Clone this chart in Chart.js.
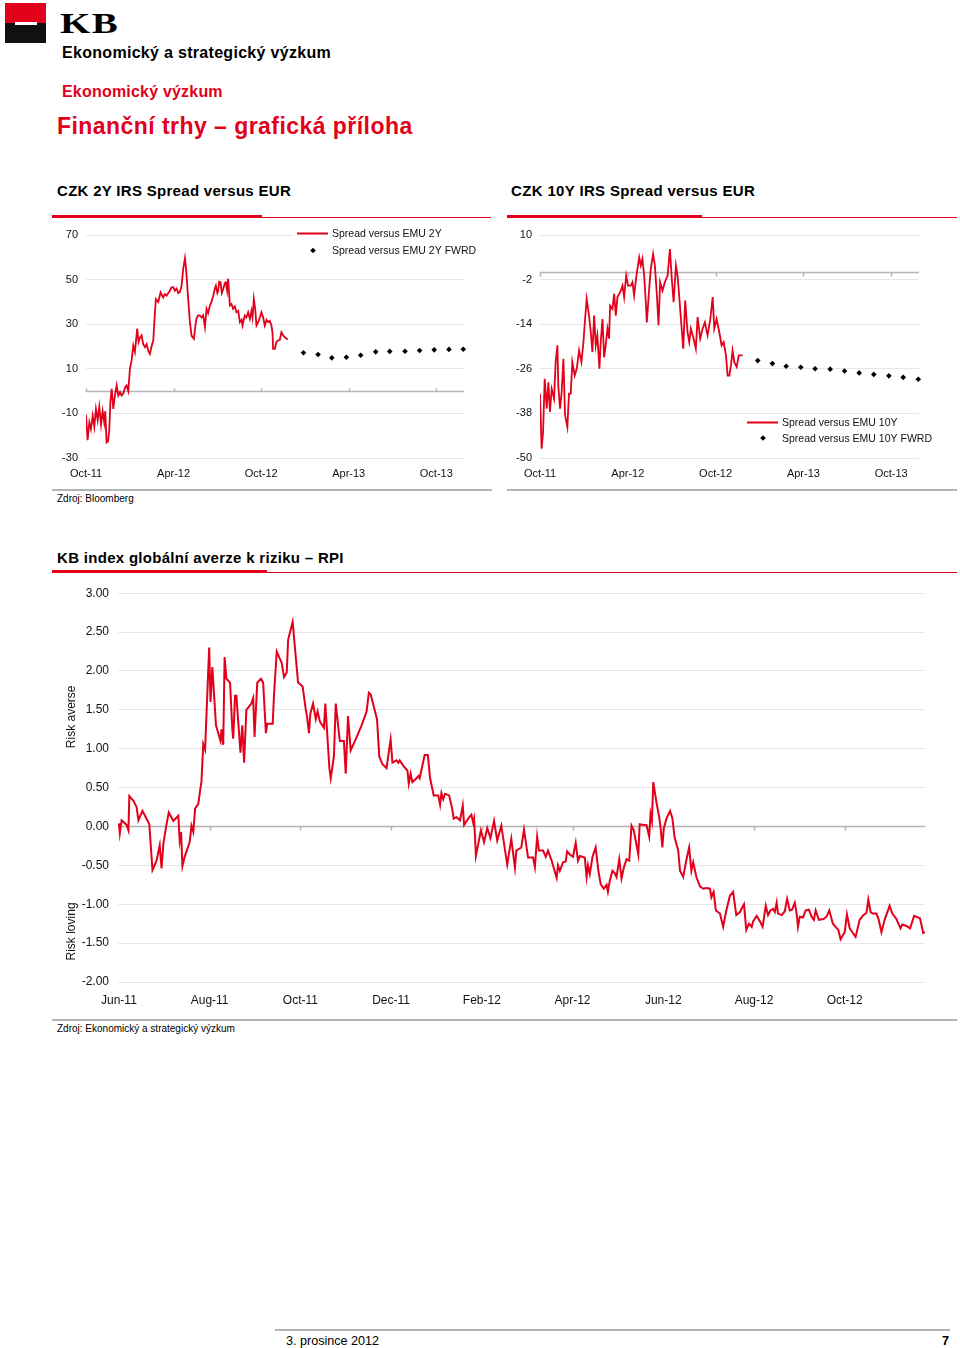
<!DOCTYPE html>
<html>
<head>
<meta charset="utf-8">
<script src="https://cdn.jsdelivr.net/npm/chart.js@4.4.0/dist/chart.umd.min.js"></script>
<style>
  body { margin: 0; width: 960px; height: 1348px; position: relative; background: #fff; overflow: hidden;
         font-family: "Liberation Sans", Arial, sans-serif; color: #000; }
  .abs { position: absolute; white-space: nowrap; line-height: 1; }
  .red { color: #e2001a; }
  .b { font-weight: bold; }
  canvas { position: absolute; }
</style>
</head>
<body>

<!-- header -->
<div class="abs" style="left:5px;top:3px;width:41px;height:20px;background:#e2001a"></div>
<div class="abs" style="left:5px;top:23px;width:41px;height:20px;background:#111"></div>
<div class="abs" style="left:15px;top:22px;width:22px;height:3px;background:#fff"></div>
<div class="abs b" style="left:60px;top:8px;font-family:'Liberation Serif',serif;font-size:30px;transform:scaleX(1.3);transform-origin:left top;letter-spacing:1px">KB</div>
<div class="abs b" style="left:62px;top:45px;font-size:16px;letter-spacing:0.3px">Ekonomický a strategický výzkum</div>
<div class="abs b red" style="left:62px;top:84px;font-size:16px;letter-spacing:0.2px">Ekonomický výzkum</div>
<div class="abs b red" style="left:57px;top:115px;font-size:23px;letter-spacing:0.45px">Finanční trhy – grafická příloha</div>

<!-- top chart titles -->
<div class="abs b" style="left:57px;top:183px;font-size:15px;letter-spacing:0.3px">CZK 2Y IRS Spread versus EUR</div>
<div class="abs b" style="left:511px;top:183px;font-size:15px;letter-spacing:0.35px">CZK 10Y IRS Spread versus EUR</div>
<div class="abs" style="left:52px;top:215px;width:210px;height:3px;background:#e2001a"></div>
<div class="abs" style="left:262px;top:217px;width:229px;height:1px;background:#e2001a"></div>
<div class="abs" style="left:507px;top:215px;width:195px;height:3px;background:#e2001a"></div>
<div class="abs" style="left:702px;top:217px;width:255px;height:1px;background:#e2001a"></div>

<canvas id="c2y" width="440" height="270" style="left:52px;top:220px"></canvas>
<canvas id="c10y" width="450" height="270" style="left:507px;top:220px"></canvas>

<div class="abs" style="left:52px;top:489px;width:440px;height:2px;background:#b4b4b4"></div>
<div class="abs" style="left:507px;top:489px;width:450px;height:2px;background:#b4b4b4"></div>
<div class="abs" style="left:57px;top:494px;font-size:10px">Zdroj: Bloomberg</div>

<!-- RPI chart -->
<div class="abs b" style="left:57px;top:550px;font-size:15px;letter-spacing:0.3px">KB index globální averze k riziku – RPI</div>
<div class="abs" style="left:52px;top:570px;width:215px;height:3px;background:#e2001a"></div>
<div class="abs" style="left:267px;top:572px;width:690px;height:1px;background:#e2001a"></div>

<canvas id="crpi" width="905" height="440" style="left:52px;top:577px"></canvas>

<div class="abs" style="left:52px;top:1019px;width:905px;height:2px;background:#b4b4b4"></div>
<div class="abs" style="left:57px;top:1024px;font-size:10px">Zdroj: Ekonomický a strategický výzkum</div>

<!-- footer -->
<div class="abs" style="left:275px;top:1329px;width:675px;height:2px;background:#b4b4b4"></div>
<div class="abs" style="left:286px;top:1335px;font-size:12.6px">3. prosince 2012</div>
<div class="abs b" style="left:942px;top:1335px;font-size:12.6px">7</div>

<script>
// ---- data: x positions are months counted from the first tick label ----

// CZK 2Y IRS spread (months since Oct-11)
const spread2yMonths = [0,0.11,0.23,0.34,0.46,0.57,0.68,0.80,0.91,1.03,1.14,1.25,1.32,1.41,1.51,1.60,1.67,1.76,1.87,1.98,
  2.10,2.21,2.33,2.44,2.56,2.67,2.78,2.90,3.01,3.13,3.24,3.35,3.51,3.60,3.70,3.81,3.92,4.04,4.15,4.27,
  4.38,4.49,4.61,4.72,4.79,4.95,5.11,5.29,5.41,5.52,5.64,5.75,5.86,5.98,6.09,6.21,6.32,6.43,6.55,6.66,
  6.78,6.84,6.89,7.00,7.12,7.23,7.39,7.51,7.57,7.69,7.80,7.92,8.03,8.15,8.26,8.37,8.49,8.60,8.72,8.83,
  8.90,9.00,9.06,9.13,9.22,9.31,9.40,9.51,9.58,9.67,9.74,9.86,9.97,10.08,10.20,10.31,10.43,10.54,10.66,10.72,
  10.88,10.99,11.11,11.23,11.34,11.41,11.50,11.59,11.68,11.80,11.91,12.02,12.14,12.25,12.37,12.48,12.59,12.71,12.78,12.82,
  12.94,13.05,13.16,13.28,13.39,13.51,13.62,13.73,13.85];
const spread2yValues = [-10.6,-22,-14,-17,-11,-16,-8,-13,-7,-15,-9,-14,-9,-23,-22.5,-17,-5,1,-8,-2,
  2.5,-2,-0.4,-2,-1,1.5,2.5,0,10,14,20.4,17.5,28,22,24,25,21,19.7,21,18,
  16.7,20,22.7,35,41.3,40,44.3,42,43.5,42.8,44,45,46.5,46.6,45,46,44,44.3,47.3,54.8,
  59.6,56,51.8,41.3,30.9,24.9,23.4,30,32.4,34,33.9,33,34,28.7,36.9,35,38.4,40,42.8,46,
  47.3,44,45,49,48.8,44,45.8,48.5,48.8,45,50.3,38.4,39,36.9,38,35.4,36,30.9,32,29.4,
  33.9,33,35.4,32.4,36,33,41.3,37,29.4,31,33,35.4,33,29.4,32,30.9,31.5,29.4,26,19,
  19,22,22.7,23,26.4,25,24.2,23.5,23.4];
const fwrd2yMonths = [14.90,15.90,16.84,17.84,18.82,19.85,20.81,21.86,22.86,23.86,24.87,25.85];
const fwrd2yValues = [17.2,16.4,14.9,15.2,16.1,17.6,17.8,17.9,18.2,18.5,18.7,18.8];

// CZK 10Y IRS spread (months since Oct-11)
const spread10yMonths = [0,0.11,0.21,0.32,0.46,0.57,0.68,0.80,0.96,1.07,1.19,1.25,1.37,1.48,1.60,1.71,1.87,1.98,2.10,2.21,
  2.37,2.51,2.67,2.83,2.97,3.08,3.19,3.35,3.47,3.58,3.70,3.81,3.92,4.06,4.15,4.27,4.38,4.49,4.61,4.72,
  4.79,4.95,5.07,5.18,5.29,5.48,5.64,5.75,5.89,6.02,6.21,6.32,6.43,6.59,6.78,6.89,7.00,7.12,7.23,7.30,
  7.46,7.57,7.73,7.85,7.99,8.10,8.21,8.37,8.53,8.72,8.88,8.99,9.13,9.29,9.40,9.51,9.63,9.79,9.92,10.08,
  10.20,10.31,10.50,10.65,10.77,10.95,11.11,11.27,11.45,11.64,11.80,11.91,12.07,12.25,12.41,12.55,12.71,12.82,12.94,13.05,
  13.16,13.28,13.44,13.58,13.73,13.85];
const spread10yValues = [-32.7,-47.5,-43,-28.7,-36.7,-29.6,-37.6,-31.4,-34,-24.2,-19.7,-30.5,-36.7,-32.3,-23.3,-38.5,-41.7,-32.7,-32.7,-24.2,
  -27.8,-26,-21.1,-24.2,-18.8,-12.6,-7.2,-11.7,-16.1,-21.5,-11.7,-19.7,-17,-26,-18.8,-12.6,-22.9,-19.7,-15.2,-17.9,
  -9,-9.9,-5.8,-11.7,-6.7,-5.4,-3.6,-6.7,-0.9,-3.6,-3.6,-2.7,-6.3,-0.9,4,1.8,3.6,-0.9,-8.1,-13.5,
  -4.5,0.9,4.9,1.8,-6.3,-14.3,-2.7,-5,-2.7,-0.9,6.2,-0.9,-8.1,1.8,-0.9,-6.3,-12.6,-20.6,-7.6,-16.1,
  -18.8,-15.2,-17.9,-20.6,-12.1,-17.9,-15.2,-13.5,-17,-12.6,-6.7,-15.2,-12.6,-16.1,-19.7,-18.8,-22.4,-27.8,-27.8,-25.1,
  -21.1,-24.2,-25.5,-22.4,-22.4,-22.4];
const fwrd10yMonths = [14.88,15.88,16.82,17.82,18.80,19.83,20.81,21.81,22.81,23.84,24.82,25.85];
const fwrd10yValues = [-23.8,-24.6,-25.3,-25.6,-26.0,-26.1,-26.6,-27.1,-27.5,-27.9,-28.3,-28.8];

const spreadTickMonths = [0, 6, 12, 18, 24];
const spreadTickLabels = ['Oct-11', 'Apr-12', 'Oct-12', 'Apr-13', 'Oct-13'];

// KB RPI (months since Jun-11)
const rpiMonths = [0.00,0.02,0.06,0.17,0.21,0.23,0.32,0.39,0.43,0.52,0.61,0.67,0.74,0.83,0.90,0.94,0.98,1.05,1.10,1.20,
  1.31,1.34,1.37,1.40,1.45,1.56,1.60,1.64,1.68,1.75,1.79,1.82,1.86,1.90,1.99,2.02,2.06,2.14,2.19,2.24,
  2.26,2.30,2.33,2.37,2.45,2.50,2.52,2.56,2.59,2.63,2.68,2.72,2.76,2.81,2.92,2.96,2.99,3.05,3.13,3.18,
  3.24,3.27,3.39,3.42,3.48,3.59,3.64,3.70,3.73,3.83,3.88,3.95,4.05,4.12,4.15,4.19,4.22,4.28,4.34,4.38,
  4.43,4.52,4.55,4.64,4.67,4.74,4.78,4.87,4.96,5.00,5.05,5.11,5.22,5.35,5.46,5.51,5.55,5.69,5.74,5.81,
  5.90,5.96,5.99,6.03,6.12,6.16,6.19,6.27,6.36,6.39,6.43,6.47,6.56,6.60,6.63,6.74,6.81,6.86,6.94,7.04,
  7.08,7.11,7.15,7.19,7.28,7.35,7.38,7.44,7.52,7.58,7.61,7.70,7.77,7.81,7.83,7.87,7.98,8.05,8.12,8.19,
  8.27,8.34,8.43,8.56,8.65,8.73,8.76,8.87,8.93,9.02,9.13,9.17,9.22,9.26,9.35,9.41,9.46,9.54,9.65,9.68,
  9.72,9.79,9.85,9.88,9.94,10.01,10.07,10.12,10.16,10.27,10.31,10.34,10.38,10.44,10.51,10.57,10.62,10.69,10.75,10.78,
  10.82,10.88,10.93,10.97,11.03,11.08,11.13,11.19,11.25,11.30,11.35,11.45,11.48,11.56,11.63,11.69,11.72,11.75,11.78,11.85,
  11.91,11.94,11.98,12.01,12.07,12.15,12.20,12.25,12.33,12.37,12.44,12.51,12.57,12.62,12.66,12.73,12.81,12.88,12.95,13.03,
  13.06,13.11,13.16,13.25,13.32,13.39,13.47,13.54,13.61,13.69,13.78,13.83,13.89,13.95,13.98,14.06,14.13,14.19,14.26,14.31,
  14.36,14.42,14.46,14.50,14.53,14.61,14.68,14.73,14.79,14.84,14.90,14.94,14.97,15.01,15.08,15.14,15.21,15.27,15.32,15.36,
  15.43,15.53,15.60,15.66,15.74,15.80,15.86,15.91,15.96,16.00,16.05,16.11,16.17,16.24,16.33,16.41,16.48,16.52,16.57,16.61,
  16.70,16.75,16.81,16.88,16.99,17.05,17.14,17.23,17.27,17.36,17.44,17.53,17.66,17.73,17.77];
const rpiValues = [0.04,-0.09,0.08,0.02,-0.05,0.39,0.33,0.25,0.08,0.20,0.10,0.03,-0.56,-0.44,-0.24,-0.54,-0.22,0.03,0.18,0.07,
  0.14,-0.18,-0.07,-0.51,-0.39,-0.20,0.01,-0.07,0.23,0.29,0.46,0.58,1.06,0.99,2.30,1.60,2.05,1.30,1.20,1.10,
  1.25,1.05,2.18,1.90,1.85,1.25,1.13,1.68,1.68,1.35,0.95,1.30,0.82,1.50,1.58,1.65,1.15,1.85,1.90,1.85,
  1.20,1.32,1.32,1.70,2.25,2.10,1.92,1.98,2.40,2.63,2.30,1.85,1.80,1.50,1.40,1.20,1.45,1.58,1.38,1.48,
  1.35,1.27,1.58,0.75,0.62,0.90,1.58,1.10,1.10,0.68,1.42,0.98,1.12,1.30,1.48,1.72,1.70,1.38,0.90,0.80,
  0.75,1.00,1.12,0.82,0.85,0.82,0.85,0.78,0.72,0.55,0.68,0.57,0.62,0.65,0.62,0.92,0.92,0.62,0.40,0.40,
  0.28,0.43,0.35,0.42,0.40,0.22,0.10,0.12,0.08,0.27,0.02,0.10,0.15,0.05,0.10,-0.38,-0.05,-0.20,-0.02,-0.15,
  0.07,-0.18,0.01,-0.49,-0.16,-0.53,-0.31,-0.27,-0.04,-0.40,-0.40,-0.52,-0.13,-0.31,-0.31,-0.39,-0.31,-0.44,-0.66,-0.50,
  -0.57,-0.46,-0.45,-0.32,-0.36,-0.39,-0.21,-0.44,-0.38,-0.40,-0.65,-0.50,-0.61,-0.39,-0.27,-0.57,-0.74,-0.80,-0.75,-0.84,
  -0.70,-0.57,-0.60,-0.65,-0.42,-0.67,-0.53,-0.42,-0.44,0.01,-0.05,-0.36,0.03,0.02,0.02,-0.13,0.16,0.07,0.57,0.31,
  0.12,-0.01,-0.27,-0.03,0.10,0.20,0.11,-0.14,-0.31,-0.57,-0.65,-0.43,-0.27,-0.57,-0.46,-0.65,-0.77,-0.80,-0.79,-0.80,
  -0.91,-0.84,-1.08,-1.12,-1.29,-1.08,-0.89,-0.84,-1.14,-1.10,-1.00,-1.33,-1.25,-1.29,-1.22,-1.15,-1.22,-1.29,-1.02,-1.14,
  -1.08,-1.06,-1.10,-0.98,-1.12,-1.14,-1.09,-0.93,-1.08,-1.07,-0.98,-1.12,-1.29,-1.16,-1.17,-1.08,-1.07,-1.16,-1.20,-1.08,
  -1.20,-1.19,-1.16,-1.08,-1.25,-1.29,-1.33,-1.45,-1.40,-1.36,-1.13,-1.31,-1.36,-1.42,-1.20,-1.14,-1.11,-0.94,-1.10,-1.12,
  -1.12,-1.20,-1.36,-1.20,-1.02,-1.12,-1.19,-1.31,-1.26,-1.28,-1.31,-1.15,-1.18,-1.37,-1.36];
const rpiTickMonths = [0, 2, 4, 6, 8, 10, 12, 14, 16];
const rpiTickLabels = ['Jun-11', 'Aug-11', 'Oct-11', 'Dec-11', 'Feb-12', 'Apr-12', 'Jun-12', 'Aug-12', 'Oct-12'];

// ---- chart setup ----
const RED = '#e2001a';
const FONT = '"Liberation Sans", Arial, sans-serif';
Chart.defaults.font.family = FONT;
Chart.defaults.color = '#111';

const pts = (xs, ys) => xs.map((m, i) => ({ x: m, y: ys[i] }));

// gray axis line through y = 0 with small tick marks
const zeroAxis = {
  id: 'zeroAxis',
  beforeDatasetsDraw(chart, args, opts) {
    const { ctx, chartArea: a, scales: { x, y } } = chart;
    const py = Math.round(y.getPixelForValue(0)) + 0.5;
    ctx.save();
    ctx.strokeStyle = '#b4b4b4';
    ctx.lineWidth = 1.5;
    ctx.beginPath();
    ctx.moveTo(a.left, py);
    ctx.lineTo(a.right, py);
    x.ticks.forEach(t => {
      const px = Math.round(x.getPixelForValue(t.value)) + 0.5;
      ctx.moveTo(px, py);
      ctx.lineTo(px, py + opts.tick);
    });
    ctx.stroke();
    ctx.restore();
  }
};

// legend drawn at a fixed spot inside the plot
const boxLegend = {
  id: 'boxLegend',
  beforeDatasetsDraw(chart, args, opts) {
    const ctx = chart.ctx;
    const ds = chart.data.datasets;
    ctx.save();
    ctx.fillStyle = '#fff';
    ctx.fillRect(opts.x - 3, opts.y - 8, chart.chartArea.right - opts.x + 4, opts.gap + 16);
    ctx.font = '10.5px ' + FONT;
    ctx.textBaseline = 'middle';
    ctx.fillStyle = '#111';
    ctx.strokeStyle = ds[0].borderColor;
    ctx.lineWidth = 2;
    ctx.beginPath();
    ctx.moveTo(opts.x, opts.y);
    ctx.lineTo(opts.x + 31, opts.y);
    ctx.stroke();
    ctx.fillText(ds[0].label, opts.x + 35, opts.y + 1);
    ctx.fillStyle = '#000';
    const cx = opts.x + 16, cy = opts.y + opts.gap, r = 2.8;
    ctx.beginPath();
    ctx.moveTo(cx, cy - r); ctx.lineTo(cx + r, cy); ctx.lineTo(cx, cy + r); ctx.lineTo(cx - r, cy);
    ctx.closePath();
    ctx.fill();
    ctx.fillStyle = '#111';
    ctx.fillText(ds[1].label, opts.x + 35, cy + 1);
    ctx.restore();
  }
};

// rotated side captions on the RPI axis
const sideTitles = {
  id: 'sideTitles',
  afterDraw(chart, args, opts) {
    const { ctx, scales: { y } } = chart;
    ctx.save();
    ctx.font = '12px ' + FONT;
    ctx.fillStyle = '#111';
    ctx.textAlign = 'center';
    ctx.textBaseline = 'middle';
    opts.items.forEach(it => {
      ctx.save();
      ctx.translate(opts.x, y.getPixelForValue(it.at));
      ctx.rotate(-Math.PI / 2);
      ctx.fillText(it.text, 0, 0);
      ctx.restore();
    });
    ctx.restore();
  }
};

function spreadChart(id, lineLabel, lineX, lineY, dotLabel, dotX, dotY, yMin, yMax, yStep, yW, padR, legend, tickDir) {
  return new Chart(document.getElementById(id), {
    type: 'line',
    data: {
      datasets: [
        { label: lineLabel, data: pts(lineX, lineY), borderColor: RED, borderWidth: 1.8, pointRadius: 0, tension: 0 },
        { label: dotLabel, data: pts(dotX, dotY), showLine: false, pointStyle: 'rectRot', pointRadius: 2.8,
          backgroundColor: '#000', borderColor: '#000', borderWidth: 0, clip: false }
      ]
    },
    options: {
      responsive: false,
      animation: false,
      layout: { padding: { top: 15, right: padR, bottom: 0, left: 0 } },
      plugins: { legend: { display: false }, tooltip: { enabled: false }, boxLegend: legend, zeroAxis: { tick: tickDir } },
      scales: {
        x: {
          type: 'linear', min: 0, max: 25.9,
          grid: { display: false, drawTicks: false }, border: { display: false },
          afterBuildTicks(s) { s.ticks = spreadTickMonths.map(v => ({ value: v })); },
          afterFit(s) { s.height = 32; },
          ticks: { padding: 9, autoSkip: false, maxRotation: 0, font: { size: 11 },
                   callback: (v, i) => spreadTickLabels[i] }
        },
        y: {
          min: yMin, max: yMax,
          grid: { color: '#e6e6e6', drawTicks: false }, border: { display: false },
          afterFit(s) { s.width = yW; },
          ticks: { stepSize: yStep, padding: 8, font: { size: 11 } }
        }
      }
    },
    plugins: [zeroAxis, boxLegend]
  });
}

spreadChart('c2y', 'Spread versus EMU 2Y', spread2yMonths, spread2yValues,
  'Spread versus EMU 2Y FWRD', fwrd2yMonths, fwrd2yValues, -30, 70, 20, 34, 28,
  { x: 245, y: 13.5, gap: 17 }, -3);

spreadChart('c10y', 'Spread versus EMU 10Y', spread10yMonths, spread10yValues,
  'Spread versus EMU 10Y FWRD', fwrd10yMonths, fwrd10yValues, -50, 10, 12, 33, 38,
  { x: 240, y: 202.5, gap: 15.5 }, 4);

new Chart(document.getElementById('crpi'), {
  type: 'line',
  data: {
    datasets: [{ label: 'RPI', data: pts(rpiMonths, rpiValues), borderColor: RED, borderWidth: 2, pointRadius: 0, tension: 0 }]
  },
  options: {
    responsive: false,
    animation: false,
    layout: { padding: { top: 14, right: 32, bottom: 0, left: 0 } },
    plugins: {
      legend: { display: false }, tooltip: { enabled: false },
      zeroAxis: { tick: 4 },
      sideTitles: { x: 20, items: [{ text: 'Risk averse', at: 1.41 }, { text: 'Risk loving', at: -1.35 }] }
    },
    scales: {
      x: {
        type: 'linear', min: -0.02, max: 17.77,
        grid: { display: false, drawTicks: false }, border: { display: false },
        afterBuildTicks(s) { s.ticks = rpiTickMonths.map(v => ({ value: v })); },
        afterFit(s) { s.height = 35; },
        ticks: { padding: 11, autoSkip: false, maxRotation: 0, font: { size: 12 },
                 callback: (v, i) => rpiTickLabels[i] }
      },
      y: {
        min: -2, max: 3,
        grid: { color: '#e6e6e6', drawTicks: false }, border: { display: false },
        afterFit(s) { s.width = 66; },
        ticks: { stepSize: 0.5, padding: 9, font: { size: 12 }, callback: v => v.toFixed(2) }
      }
    }
  },
  plugins: [zeroAxis, sideTitles]
});
</script>
</body>
</html>
